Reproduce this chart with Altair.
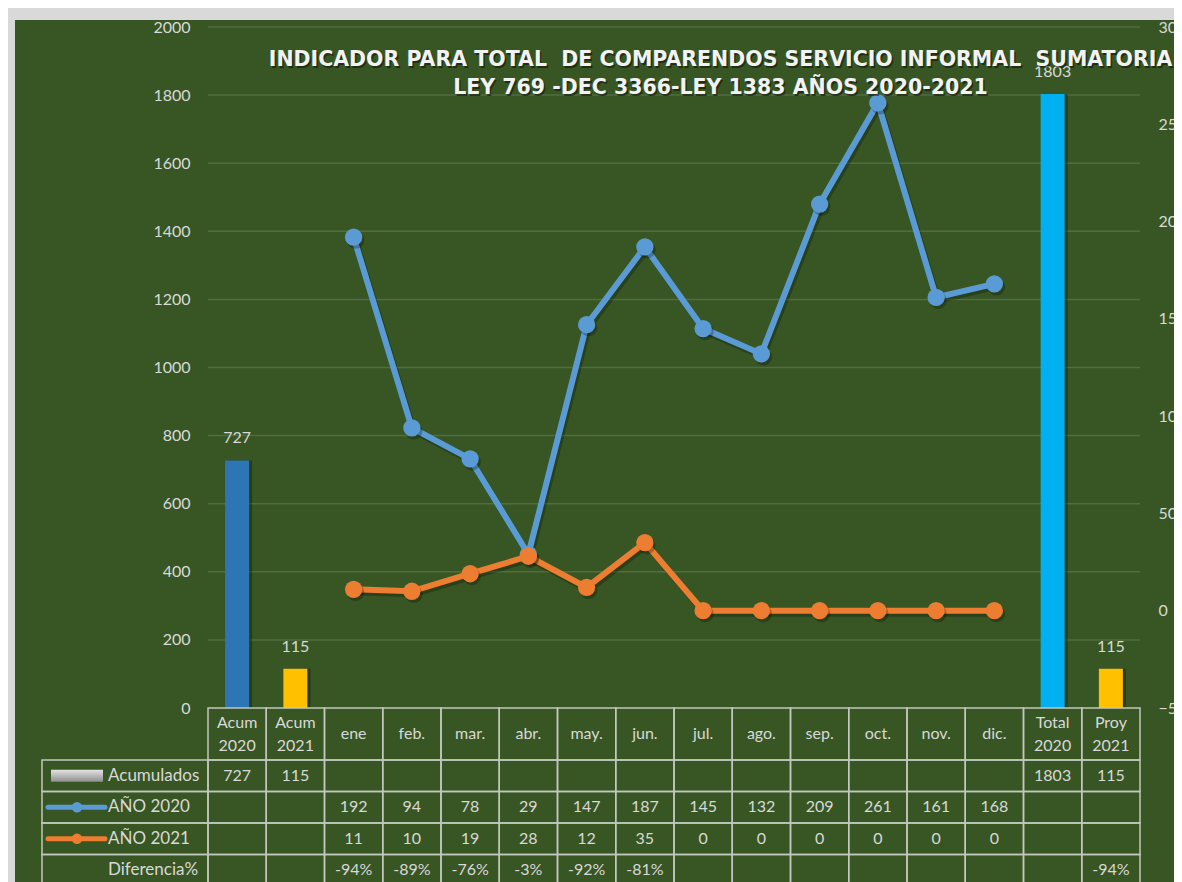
import altair as alt
import pandas as pd

# ---------------- data ----------------
categories = ["Acum 2020", "Acum 2021", "ene", "feb.", "mar.", "abr.", "may.", "jun.",
              "jul.", "ago.", "sep.", "oct.", "nov.", "dic.", "Total 2020", "Proy 2021"]
bar_categories = ["Acum 2020", "Acum 2021", "Total 2020", "Proy 2021"]
acumulados = [727, 115, 1803, 115]
months = ["ene", "feb.", "mar.", "abr.", "may.", "jun.", "jul.", "ago.", "sep.", "oct.", "nov.", "dic."]
anio_2020 = [192, 94, 78, 29, 147, 187, 145, 132, 209, 261, 161, 168]
anio_2021 = [11, 10, 19, 28, 12, 35, 0, 0, 0, 0, 0, 0]
diferencia_categories = ["ene", "feb.", "mar.", "abr.", "may.", "jun.", "Proy 2021"]
diferencia = ["-94%", "-89%", "-76%", "-3%", "-92%", "-81%", "-94%"]
series = ["AÑO 2020", "AÑO 2021"]
row_labels = ["Acumulados", "AÑO 2020", "AÑO 2021", "Diferencia%"]
title_line1 = "INDICADOR PARA TOTAL  DE COMPARENDOS SERVICIO INFORMAL  SUMATORIA"
title_line2 = "LEY 769 -DEC 3366-LEY 1383 AÑOS 2020-2021"
left_ticks = list(range(0, 2001, 200))
right_ticks = list(range(-50, 301, 50))

# ---------------- styles / layout ----------------
BG = "#375623"
FRAME = "#D9D9D9"
GRID = "#526D42"
TXT = "#D9D9D9"
LINE = "#C3C7BE"
bar_colors = ["#2E75B6", "#FFC000", "#00B0F0", "#FFC000"]
series_colors = ["#5B9BD5", "#ED7D31"]
FONT = "Lato"
FS = 16
PLOT_W, PLOT_H = 932, 681
N = len(categories)
COL_W = PLOT_W / N
LABEL_W = 166
L = LABEL_W / COL_W
row_heights = [52, 31.5, 31.5, 31.5, 31.5]
bounds = [0]
for h in row_heights:
    bounds.append(bounds[-1] + h)
centers = [(bounds[i] + bounds[i + 1]) / 2 for i in range(len(row_heights))]


def u(px):
    """table x-units from pixels measured from the table's left edge (label column)"""
    return -L + px / COL_W


# ---------------- background frame ----------------
bg = alt.Chart(pd.DataFrame({"a": [0]})).mark_rect(color=BG).encode(
    x=alt.value(-193), x2=alt.value(PLOT_W + 200), y=alt.value(-7), y2=alt.value(PLOT_H + 250)
)

# ---------------- bars (left axis) ----------------
x_scale = alt.Scale(domain=categories, paddingInner=0, paddingOuter=0)
x_top = alt.X("cat:N", sort=categories, scale=x_scale, axis=None)

y_left = alt.Y(
    "value:Q",
    scale=alt.Scale(domain=[0, 2000], nice=False),
    axis=alt.Axis(values=left_ticks, format="d", grid=False, domain=False, ticks=False,
                  labelColor=TXT, labelFont=FONT, labelFontSize=FS, labelPadding=18,
                  title=None, zindex=1),
)
grid_df = pd.DataFrame({"value": left_ticks[1:]})
gridlines = alt.Chart(grid_df).mark_rule(color=GRID, strokeWidth=1.5).encode(y=y_left)

bars_df = pd.DataFrame({"cat": bar_categories, "value": acumulados})
bar_base = alt.Chart(bars_df).encode(x=x_top, y=y_left)
bar_shadow = bar_base.mark_bar(size=24, color="#000000", opacity=0.3, xOffset=3)
bars = bar_base.mark_bar(size=24).encode(
    color=alt.Color("cat:N", scale=alt.Scale(domain=bar_categories, range=bar_colors), legend=None)
)
bar_labels = bar_base.mark_text(dy=-22, color=TXT, font=FONT, fontSize=FS).encode(text="value:Q")
bar_layer = alt.layer(gridlines, bar_shadow, bars, bar_labels)

# ---------------- lines (right axis) ----------------
lines_df = pd.DataFrame({
    "cat": months + months,
    "serie": [series[0]] * len(months) + [series[1]] * len(months),
    "value": anio_2020 + anio_2021,
})
y_right = alt.Y(
    "value:Q",
    scale=alt.Scale(domain=[-50, 300], nice=False, zero=False),
    axis=alt.Axis(orient="right", values=right_ticks, format="d", grid=False, domain=False,
                  ticks=False, labelColor=TXT, labelFont=FONT, labelFontSize=FS,
                  labelPadding=18, title=None, zindex=1),
)
col_series = alt.Color("serie:N", scale=alt.Scale(domain=series, range=series_colors), legend=None)
line_base = alt.Chart(lines_df).encode(x=x_top, y=y_right)
line_shadow = line_base.mark_line(strokeWidth=6, color="#000000", opacity=0.25,
                                  xOffset=2, yOffset=3).encode(detail="serie:N")
lines = line_base.mark_line(strokeWidth=6).encode(color=col_series)
pt_shadow = line_base.mark_point(filled=True, size=300, color="#000000", opacity=0.25,
                                 xOffset=2, yOffset=3).encode(detail="serie:N")
points = line_base.mark_point(filled=True, size=300, opacity=1).encode(color=col_series)
line_layer = alt.layer(line_shadow, lines, pt_shadow, points)

# ---------------- data table (below the plot) ----------------
cells = []
for i in range(N):
    cells.append({"x0": i, "x1": i + 1, "y0": bounds[0], "y1": bounds[1]})
for r in range(1, len(row_heights)):
    cells.append({"x0": -L, "x1": 0, "y0": bounds[r], "y1": bounds[r + 1]})
    for i in range(N):
        cells.append({"x0": i, "x1": i + 1, "y0": bounds[r], "y1": bounds[r + 1]})
cells_df = pd.DataFrame(cells)

xq = alt.Scale(domain=[0, N], nice=False, zero=False)
yq = alt.Scale(domain=[-PLOT_H, 0], nice=False, zero=False, reverse=True)

grid_rects = alt.Chart(cells_df).mark_rect(fillOpacity=0, stroke=LINE, strokeWidth=1.5).encode(
    x=alt.X("x0:Q", scale=xq, axis=None), x2="x1:Q",
    y=alt.Y("y0:Q", scale=yq, axis=None), y2="y1:Q",
)

single = [c for c in categories if " " not in c]
double = [c for c in categories if " " in c]
h1_df = pd.DataFrame({"xc": [categories.index(c) + 0.5 for c in single],
                      "yc": [centers[0]] * len(single), "t": single})
h2_df = pd.DataFrame({"xc": [categories.index(c) + 0.5 for c in double],
                      "yc": [centers[0]] * len(double), "t": double})
header1 = alt.Chart(h1_df).mark_text(color=TXT, font=FONT, fontSize=FS, baseline="middle").encode(
    x=alt.X("xc:Q", scale=xq, axis=None), y=alt.Y("yc:Q", scale=yq, axis=None), text="t:N")
header2 = alt.Chart(h2_df).mark_text(
    lineBreak=" ", lineHeight=23, dy=-11.5, color=TXT, font=FONT, fontSize=FS, baseline="middle"
).encode(x=alt.X("xc:Q", scale=xq, axis=None), y=alt.Y("yc:Q", scale=yq, axis=None), text="t:N")

vals = []
for c, v in zip(bar_categories, acumulados):
    vals.append({"xc": categories.index(c) + 0.5, "yc": centers[1], "t": str(v)})
for c, v in zip(months, anio_2020):
    vals.append({"xc": categories.index(c) + 0.5, "yc": centers[2], "t": str(v)})
for c, v in zip(months, anio_2021):
    vals.append({"xc": categories.index(c) + 0.5, "yc": centers[3], "t": str(v)})
for c, v in zip(diferencia_categories, diferencia):
    vals.append({"xc": categories.index(c) + 0.5, "yc": centers[4], "t": v})
vals_df = pd.DataFrame(vals)
value_text = alt.Chart(vals_df).mark_text(color=TXT, font=FONT, fontSize=FS, baseline="middle").encode(
    x=alt.X("xc:Q", scale=xq, axis=None), y=alt.Y("yc:Q", scale=yq, axis=None), text="t:N")

rl_df = pd.DataFrame({"xc": [u(66)] * 4, "yc": centers[1:], "t": row_labels})
row_text = alt.Chart(rl_df).mark_text(
    color=TXT, font=FONT, fontSize=FS + 1, baseline="middle", align="left"
).encode(x=alt.X("xc:Q", scale=xq, axis=None), y=alt.Y("yc:Q", scale=yq, axis=None), text="t:N")

sym_rect_df = pd.DataFrame({"x0": [u(9)], "x1": [u(61)], "y0": [centers[1] - 6], "y1": [centers[1] + 6]})
sym_rect = alt.Chart(sym_rect_df).mark_rect(
    fill=alt.Gradient(gradient="linear",
                      stops=[alt.GradientStop(color="#E3E3E3", offset=0),
                             alt.GradientStop(color="#8F8F8F", offset=1)],
                      x1=0, x2=0, y1=0, y2=1)
).encode(x=alt.X("x0:Q", scale=xq, axis=None), x2="x1:Q",
         y=alt.Y("y0:Q", scale=yq, axis=None), y2="y1:Q")

sym_line_df = pd.DataFrame({"x0": [u(6)] * 2, "x1": [u(63)] * 2, "xm": [u(35)] * 2,
                            "yc": centers[2:4], "serie": series})
sym_col = alt.Color("serie:N", scale=alt.Scale(domain=series, range=series_colors), legend=None)
sym_lines = alt.Chart(sym_line_df).mark_rule(strokeWidth=5, strokeCap="round").encode(
    x=alt.X("x0:Q", scale=xq, axis=None), x2="x1:Q",
    y=alt.Y("yc:Q", scale=yq, axis=None), color=sym_col)
sym_pts = alt.Chart(sym_line_df).mark_point(filled=True, size=110, opacity=1).encode(
    x=alt.X("xm:Q", scale=xq, axis=None), y=alt.Y("yc:Q", scale=yq, axis=None), color=sym_col)

table_layer = alt.layer(grid_rects, header1, header2, value_text, row_text, sym_rect, sym_lines, sym_pts)

# ---------------- title ----------------
title_cx = 720.5 - 208
# keep the double spaces of the original title visible (SVG collapses plain spaces)
t_df1 = pd.DataFrame({"t": [title_line1.replace("  ", "\u00a0 ")]})
t_df2 = pd.DataFrame({"t": [title_line2]})
t_style = dict(font="DejaVu Sans", fontSize=20.5, fontWeight="bold", align="center", baseline="middle")
title_layer = alt.layer(
    alt.Chart(t_df1).mark_text(color="#000000", opacity=0.45, dx=1.5, dy=1.5, **t_style)
    .encode(x=alt.value(title_cx), y=alt.value(33), text="t:N"),
    alt.Chart(t_df1).mark_text(color="#F2F2F2", **t_style)
    .encode(x=alt.value(title_cx), y=alt.value(33), text="t:N"),
    alt.Chart(t_df2).mark_text(color="#000000", opacity=0.45, dx=1.5, dy=1.5, **t_style)
    .encode(x=alt.value(title_cx), y=alt.value(61), text="t:N"),
    alt.Chart(t_df2).mark_text(color="#F2F2F2", **t_style)
    .encode(x=alt.value(title_cx), y=alt.value(61), text="t:N"),
)

chart = alt.layer(bg, bar_layer, line_layer, table_layer, title_layer).resolve_scale(
    x="independent", y="independent", color="independent"
).properties(
    width=PLOT_W, height=PLOT_H,
    autosize=alt.AutoSizeParams(type="none"),
    padding={"left": 200, "top": 19, "right": 34, "bottom": 174},
).configure(background=FRAME).configure_view(stroke="transparent")

chart.save("out.html", embed_options={"renderer": "svg", "actions": False})
